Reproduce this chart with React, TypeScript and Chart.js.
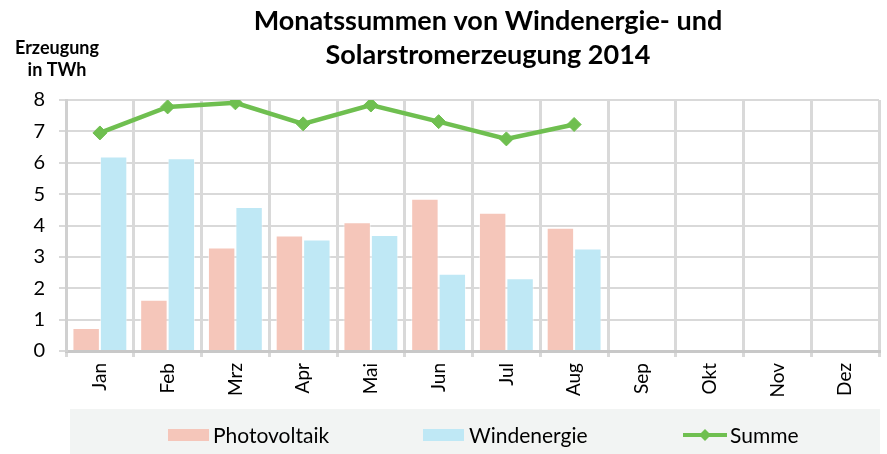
import React, { useEffect, useRef } from "react";
import { Chart, registerables } from "chart.js";

Chart.register(...registerables);

const categories = ["Jan", "Feb", "Mrz", "Apr", "Mai", "Jun", "Jul", "Aug", "Sep", "Okt", "Nov", "Dez"];
const photovoltaik = [0.73, 1.63, 3.3, 3.68, 4.1, 4.85, 4.41, 3.93, null, null, null, null];
const windenergie = [6.2, 6.14, 4.59, 3.55, 3.7, 2.46, 2.32, 3.27, null, null, null, null];
const summe = [6.95, 7.78, 7.91, 7.24, 7.84, 7.31, 6.76, 7.22, null, null, null, null];
const yTicks = [0, 1, 2, 3, 4, 5, 6, 7, 8];

const titleLines = ["Monatssummen von Windenergie- und", "Solarstromerzeugung 2014"];
const yTitleLines = ["Erzeugung", "in TWh"];

const PV_COLOR = "#f5c6ba";
const WIND_COLOR = "#bfe8f5";
const SUM_COLOR = "#6fbf50";
const FONT = "Lato";

const decorPlugin = {
  id: "decor",
  afterDraw(chart: any) {
    const ctx = chart.ctx;
    ctx.save();
    // title
    ctx.fillStyle = "#000";
    ctx.font = `bold 27px ${FONT}`;
    ctx.textAlign = "center";
    ctx.textBaseline = "middle";
    ctx.fillText(titleLines[0], 488, 21);
    ctx.fillText(titleLines[1], 488, 55);
    // y title
    ctx.font = `bold 18px ${FONT}`;
    ctx.fillText(yTitleLines[0], 57, 48);
    ctx.fillText(yTitleLines[1], 57, 70);
    // legend background
    ctx.fillStyle = "#f2f4f3";
    ctx.fillRect(70, 409, 810, 45);
    // legend items
    ctx.font = `21px ${FONT}`;
    ctx.textAlign = "left";
    ctx.fillStyle = PV_COLOR;
    ctx.fillRect(168, 429, 41, 12);
    ctx.fillStyle = WIND_COLOR;
    ctx.fillRect(423, 429, 41, 12);
    ctx.strokeStyle = SUM_COLOR;
    ctx.lineWidth = 4;
    ctx.beginPath();
    ctx.moveTo(683, 435);
    ctx.lineTo(727, 435);
    ctx.stroke();
    ctx.fillStyle = SUM_COLOR;
    ctx.beginPath();
    ctx.moveTo(705, 429);
    ctx.lineTo(711, 435);
    ctx.lineTo(705, 441);
    ctx.lineTo(699, 435);
    ctx.closePath();
    ctx.fill();
    ctx.fillStyle = "#000";
    const labels = chart.data.datasets.map((d: any) => d.label);
    ctx.fillText(labels[0], 213, 436);
    ctx.fillText(labels[1], 469, 436);
    ctx.fillText(labels[2], 730, 436);
    ctx.restore();
  },
};

export default function App() {
  const ref = useRef<HTMLCanvasElement | null>(null);
  useEffect(() => {
    if (!ref.current) return;
    const chart = new Chart(ref.current, {
      type: "bar",
      data: {
        labels: categories,
        datasets: [
          {
            type: "bar",
            label: "Photovoltaik",
            data: photovoltaik,
            backgroundColor: PV_COLOR,
            borderColor: "rgba(255,255,255,0.5)",
            borderWidth: 1,
            categoryPercentage: 0.81,
            barPercentage: 1.0,
            order: 1,
          },
          {
            type: "bar",
            label: "Windenergie",
            data: windenergie,
            backgroundColor: WIND_COLOR,
            borderColor: "rgba(255,255,255,0.5)",
            borderWidth: 1,
            categoryPercentage: 0.81,
            barPercentage: 1.0,
            order: 2,
          },
          {
            type: "line",
            label: "Summe",
            data: summe,
            borderColor: SUM_COLOR,
            backgroundColor: SUM_COLOR,
            borderWidth: 4.5,
            pointStyle: "rectRot",
            pointRadius: 7,
            pointBorderWidth: 1,
            tension: 0,
            spanGaps: false,
            order: 0,
          } as any,
        ],
      },
      options: {
        responsive: false,
        animation: false,
        layout: { padding: { top: 100, left: 0, right: 7, bottom: 45 } },
        plugins: {
          legend: { display: false },
          title: { display: false },
          tooltip: { enabled: false },
        },
        scales: {
          x: {
            offset: true,
            grid: {
              offset: true,
              color: "#d9d9d9",
              lineWidth: 3,
              drawTicks: true,
              tickLength: 6,
            },
            border: { color: "#c8c8c8", width: 3 },
            ticks: {
              color: "#000",
              font: { family: FONT, size: 19 },
              minRotation: 90,
              maxRotation: 90,
              padding: 6,
            },
            afterFit(scale: any) {
              scale.height = 58;
            },
          },
          y: {
            min: 0,
            max: 8,
            afterBuildTicks(scale: any) {
              scale.ticks = yTicks.map((v) => ({ value: v }));
            },
            grid: {
              color: "#d9d9d9",
              lineWidth: 2,
              drawTicks: true,
              tickLength: 7,
            },
            border: { color: "#d0d0d0", width: 3 },
            ticks: {
              color: "#000",
              font: { family: FONT, size: 20 },
              padding: 14,
            },
            afterFit(scale: any) {
              scale.width = 66;
            },
          },
        },
      },
      plugins: [decorPlugin],
    });
    return () => chart.destroy();
  }, []);
  return (
    <div style={{ position: "fixed", left: 0, top: 0, width: 887, height: 454, background: "#fff" }}>
      <canvas ref={ref} width={887} height={454} style={{ width: 887, height: 454, display: "block" }} />
    </div>
  );
}
